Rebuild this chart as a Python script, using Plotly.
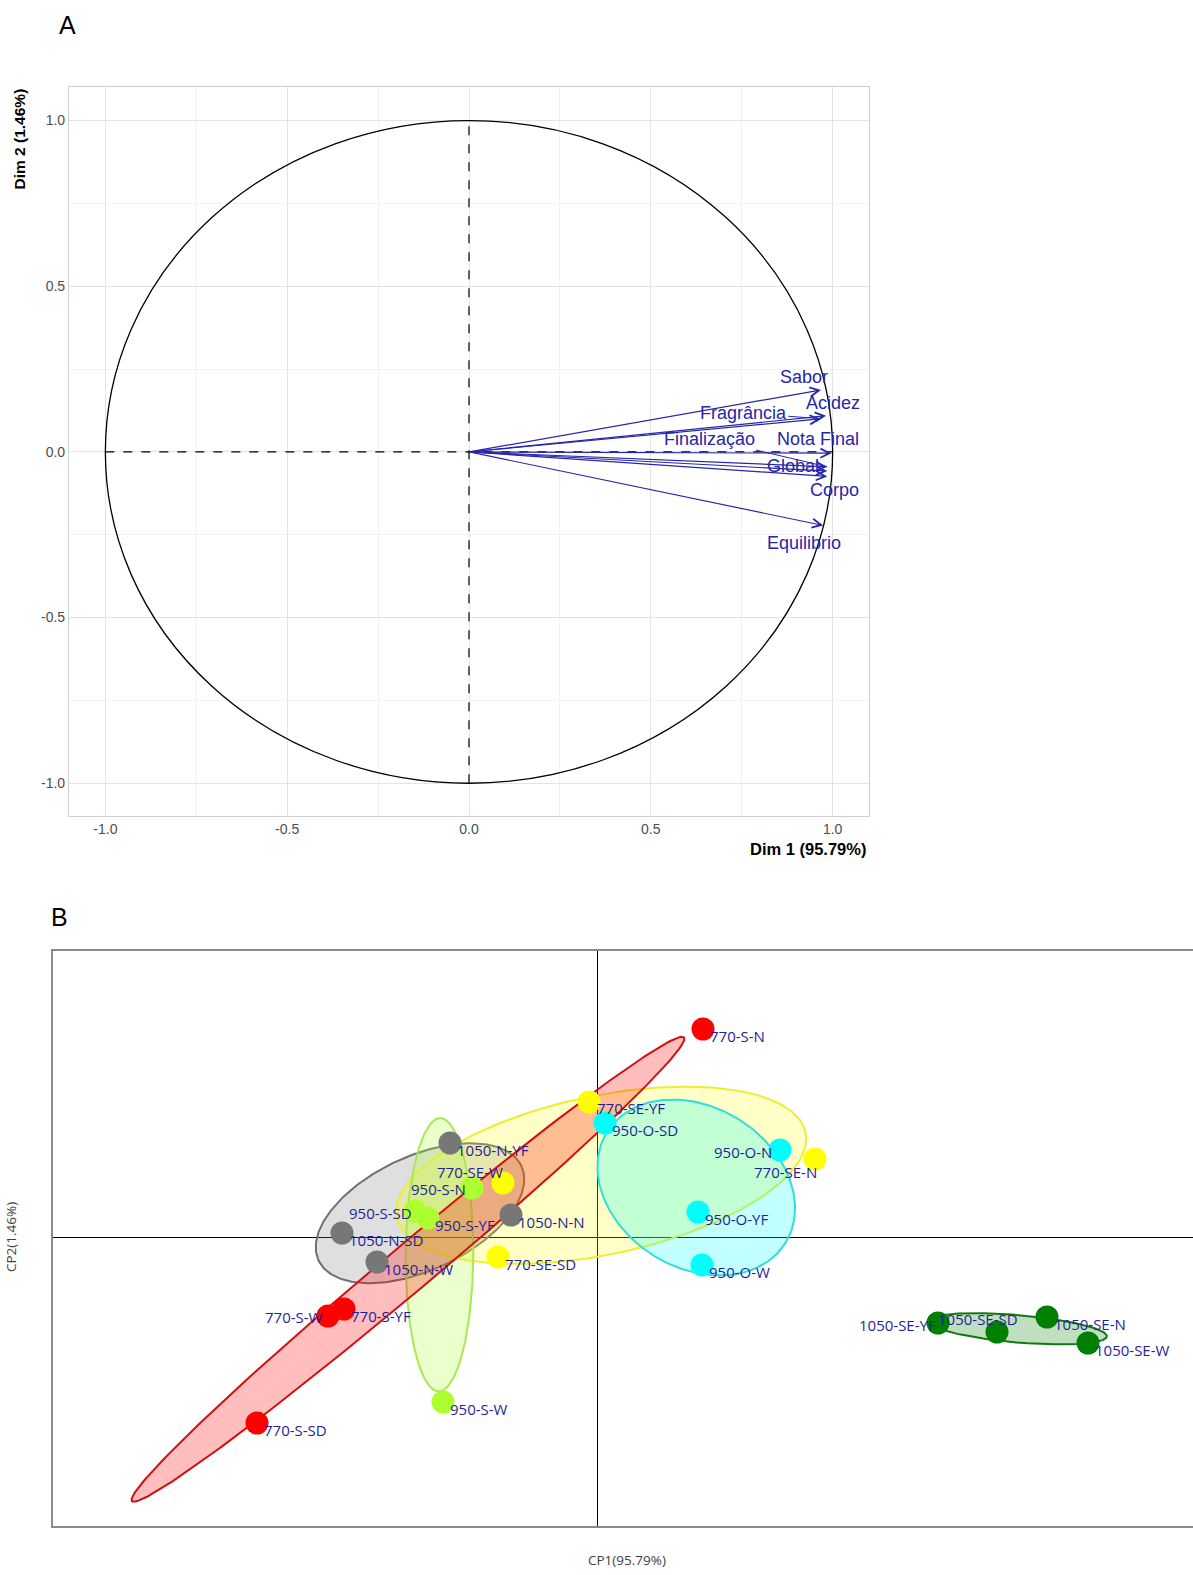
import numpy as np
import plotly.graph_objects as go

W, H = 1193, 1575

# ---------------- Panel A : variables (correlation circle) ----------------
variables = ["Sabor", "Acidez", "Fragrância", "Finalização", "Nota Final", "Global", "Corpo", "Equilibrio"]
dim1 = [0.968, 0.982, 0.968, 0.985, 0.997, 0.985, 0.985, 0.974]
dim2 = [0.187, 0.109, 0.100, -0.045, -0.004, -0.058, -0.074, -0.222]
# repelled label positions (ggrepel style)
var_label_x = [0.922, 1.001, 0.754, 0.660, 0.960, 0.891, 1.004, 0.922]
var_label_y = [0.226, 0.148, 0.118, 0.039, 0.039, -0.042, -0.115, -0.275]
var_with_segment = ["Fragrância", "Finalização"]

# ---------------- Panel B : individuals (scores) ----------------
groups = ["770-S", "770-SE", "950-O", "950-S", "1050-N", "1050-SE"]
samples = {
    "770-S":   ["770-S-N", "770-S-W", "770-S-YF", "770-S-SD"],
    "770-SE":  ["770-SE-YF", "770-SE-N", "770-SE-W", "770-SE-SD"],
    "950-O":   ["950-O-SD", "950-O-N", "950-O-YF", "950-O-W"],
    "950-S":   ["950-S-N", "950-S-SD", "950-S-YF", "950-S-W"],
    "1050-N":  ["1050-N-YF", "1050-N-N", "1050-N-SD", "1050-N-W"],
    "1050-SE": ["1050-SE-YF", "1050-SE-SD", "1050-SE-N", "1050-SE-W"],
}
cp1 = {
    "770-S":   [1.06, -2.69, -2.53, -3.40],
    "770-SE":  [-0.08, 2.18, -0.94, -0.99],
    "950-O":   [0.08, 1.83, 1.01, 1.05],
    "950-S":   [-1.25, -1.82, -1.69, -1.54],
    "1050-N":  [-1.47, -0.86, -2.55, -2.20],
    "1050-SE": [3.41, 4.00, 4.50, 4.91],
}
cp2 = {
    "770-S":   [2.08, -0.79, -0.72, -1.86],
    "770-SE":  [1.35, 0.78, 0.54, -0.20],
    "950-O":   [1.14, 0.87, 0.25, -0.28],
    "950-S":   [0.49, 0.26, 0.19, -1.65],
    "1050-N":  [0.94, 0.22, 0.04, -0.25],
    "1050-SE": [-0.86, -0.95, -0.80, -1.06],
}

# ---------------- styles ----------------
group_color = {
    "770-S": "#FF0000", "770-SE": "#FFFF00", "950-O": "#00FFFF",
    "950-S": "#ADFF2F", "1050-N": "#777777", "1050-SE": "#008000",
}
group_edge = {
    "770-S": "#D01010", "770-SE": "#EEEE30", "950-O": "#30DCDC",
    "950-S": "#A8E850", "1050-N": "#707070", "1050-SE": "#157515",
}
group_fill = {
    "770-S": "rgba(255,0,0,0.26)", "770-SE": "rgba(255,255,0,0.22)", "950-O": "rgba(0,255,255,0.24)",
    "950-S": "rgba(173,255,47,0.25)", "1050-N": "rgba(128,128,128,0.25)", "1050-SE": "rgba(0,128,0,0.25)",
}
ellipse_order = ["1050-N", "770-SE", "950-O", "950-S", "770-S", "1050-SE"]
ELL_K = 1.38
# label placement: (anchor, xshift px, yshift px)
default_place = ("left", 5, -7)
label_place = {
    "950-O-N": ("right", -6, -2),
    "770-SE-N": ("right", 4, -13),
    "770-SE-W": ("right", 2, 11),
    "950-S-N": ("right", -4, -1),
    "950-S-SD": ("right", -1, -2),
    "770-S-W": ("right", -3, -1),
    "1050-SE-YF": ("right", 0, -2),
    "1050-SE-SD": ("right", 23, 13),
    "770-SE-YF": ("left", 6, -6),
}

VAR_BLUE = "#2626AA"
LAB_BLUE = "#1F1F99"
ARIAL = "Liberation Sans"
SEGOE = "Open Sans"


def px2x(p):
    return p / W


def px2y(p):
    return 1 - p / H


fig = go.Figure()

# ---- Panel A traces ----
fig.add_trace(go.Scatter(x=[0], y=[0], xaxis="x", yaxis="y", mode="markers",
                         marker=dict(size=1, color="rgba(0,0,0,0)"), showlegend=False, hoverinfo="skip"))

annotations = []
shapes = []

shapes.append(dict(type="circle", xref="x", yref="y", x0=-1, x1=1, y0=-1, y1=1,
                   line=dict(color="black", width=1.3), layer="above"))
shapes.append(dict(type="line", xref="x", yref="y", x0=-1, x1=1, y0=0, y1=0,
                   line=dict(color="black", width=1.2, dash="dash")))
shapes.append(dict(type="line", xref="x", yref="y", x0=0, x1=0, y0=-1, y1=1,
                   line=dict(color="black", width=1.2, dash="dash")))

for v, x, y, lx, ly in zip(variables, dim1, dim2, var_label_x, var_label_y):
    annotations.append(dict(x=x, y=y, ax=0, ay=0, xref="x", yref="y", axref="x", ayref="y",
                            text="", showarrow=True, arrowhead=5, arrowsize=1.5, arrowwidth=1.2,
                            arrowcolor=VAR_BLUE, standoff=0, startstandoff=0))
    if v in var_with_segment:
        annotations.append(dict(x=x, y=y, ax=lx, ay=ly, xref="x", yref="y", axref="x", ayref="y",
                                text=v, showarrow=True, arrowhead=0, arrowwidth=1, arrowcolor=VAR_BLUE,
                                standoff=0, font=dict(family=ARIAL, size=18, color=VAR_BLUE)))
    else:
        annotations.append(dict(x=lx, y=ly, xref="x", yref="y", text=v, showarrow=False,
                                font=dict(family=ARIAL, size=18, color=VAR_BLUE)))

# ---- Panel B traces ----
t = np.linspace(0, 2 * np.pi, 200)
for g in ellipse_order:
    xs = np.array(cp1[g]); ys = np.array(cp2[g])
    m = np.array([xs.mean(), ys.mean()])
    S = np.cov(np.vstack([xs, ys]))
    vals, vecs = np.linalg.eigh(S)
    circ = np.vstack([np.cos(t), np.sin(t)])
    pts = m[:, None] + ELL_K * vecs @ (np.sqrt(vals)[:, None] * circ)
    fig.add_trace(go.Scatter(x=pts[0], y=pts[1], xaxis="x2", yaxis="y2", mode="lines",
                             fill="toself", fillcolor=group_fill[g],
                             line=dict(color=group_edge[g], width=2),
                             showlegend=False, hoverinfo="skip"))

for g in groups:
    fig.add_trace(go.Scatter(x=cp1[g], y=cp2[g], xaxis="x2", yaxis="y2", mode="markers",
                             marker=dict(size=23, color=group_color[g], line=dict(width=0)),
                             text=samples[g], name=g, showlegend=False))

for g in groups:
    for name, x, y in zip(samples[g], cp1[g], cp2[g]):
        anc, dx, dy = label_place.get(name, default_place)
        annotations.append(dict(x=x, y=y, xref="x2", yref="y2", text=name, showarrow=False,
                                xanchor=anc, yanchor="middle", xshift=dx, yshift=dy,
                                font=dict(family=SEGOE, size=15, color=LAB_BLUE)))

annotations += [
    dict(x=px2x(67), y=px2y(25), xref="paper", yref="paper", text="A", showarrow=False,
         xanchor="center", yanchor="middle", font=dict(family=ARIAL, size=25, color="black")),
    dict(x=px2x(60), y=px2y(917), xref="paper", yref="paper", text="B", showarrow=False,
         xanchor="center", yanchor="middle", font=dict(family=ARIAL, size=25, color="black")),
    dict(x=px2x(868), y=px2y(849), xref="paper", yref="paper", text="<b>Dim 1 (95.79%)</b>",
         showarrow=False, xanchor="right", yanchor="middle",
         font=dict(family=ARIAL, size=16.5, color="black")),
    dict(x=px2x(19), y=px2y(87), xref="paper", yref="paper", text="<b>Dim 2 (1.46%)</b>",
         showarrow=False, xanchor="center", yanchor="top", textangle=-90,
         font=dict(family=ARIAL, size=15.5, color="black")),
    dict(x=px2x(627), y=px2y(1560), xref="paper", yref="paper", text="CP1(95.79%)",
         showarrow=False, xanchor="center", yanchor="middle",
         font=dict(family=SEGOE, size=13.5, color="#404040")),
    dict(x=px2x(11), y=px2y(1237), xref="paper", yref="paper", text="CP2(1.46%)",
         showarrow=False, textangle=-90, xanchor="center", yanchor="middle",
         font=dict(family=SEGOE, size=13.5, color="#404040")),
]

shapes.append(dict(type="rect", xref="paper", yref="paper", x0=px2x(52), x1=px2x(1197),
                   y0=px2y(1527), y1=px2y(950), line=dict(color="#8A8A8A", width=2), layer="above"))

tickfont = dict(family=ARIAL, size=14, color="#4D4D4D")
fig.update_layout(
    width=W, height=H, margin=dict(l=0, r=0, t=0, b=0),
    paper_bgcolor="white", plot_bgcolor="white", showlegend=False,
    xaxis=dict(domain=[px2x(69), px2x(869)], range=[-1.1, 1.1], anchor="y",
               tickvals=[-1, -0.5, 0, 0.5, 1], ticktext=["-1.0", "-0.5", "0.0", "0.5", "1.0"],
               showgrid=True, gridcolor="#E4E4E4", gridwidth=1, zeroline=False,
               minor=dict(tickvals=[-0.75, -0.25, 0.25, 0.75], showgrid=True, gridcolor="#F2F2F2"),
               showline=True, mirror=True, linecolor="#CFCFCF", linewidth=1.2,
               ticks="", tickfont=tickfont, fixedrange=True),
    yaxis=dict(domain=[px2y(816.4), px2y(87.4)], range=[-1.1, 1.1], anchor="x",
               tickvals=[-1, -0.5, 0, 0.5, 1], ticktext=["-1.0", "-0.5", "0.0", "0.5", "1.0"],
               showgrid=True, gridcolor="#E4E4E4", gridwidth=1, zeroline=False,
               minor=dict(tickvals=[-0.75, -0.25, 0.25, 0.75], showgrid=True, gridcolor="#F2F2F2"),
               showline=True, mirror=True, linecolor="#CFCFCF", linewidth=1.2,
               ticks="", tickfont=tickfont, fixedrange=True),
    xaxis2=dict(domain=[px2x(52), 1.0], range=[-5.45, 5.96], anchor="y2",
                showgrid=False, showticklabels=False, ticks="", zeroline=True,
                zerolinecolor="black", zerolinewidth=1, showline=False),
    yaxis2=dict(domain=[px2y(1527), px2y(950)], range=[-2.90, 2.87], anchor="x2",
                showgrid=False, showticklabels=False, ticks="", zeroline=True,
                zerolinecolor="black", zerolinewidth=1, showline=False),
    annotations=annotations, shapes=shapes,
)

fig.write_html("out.html")
